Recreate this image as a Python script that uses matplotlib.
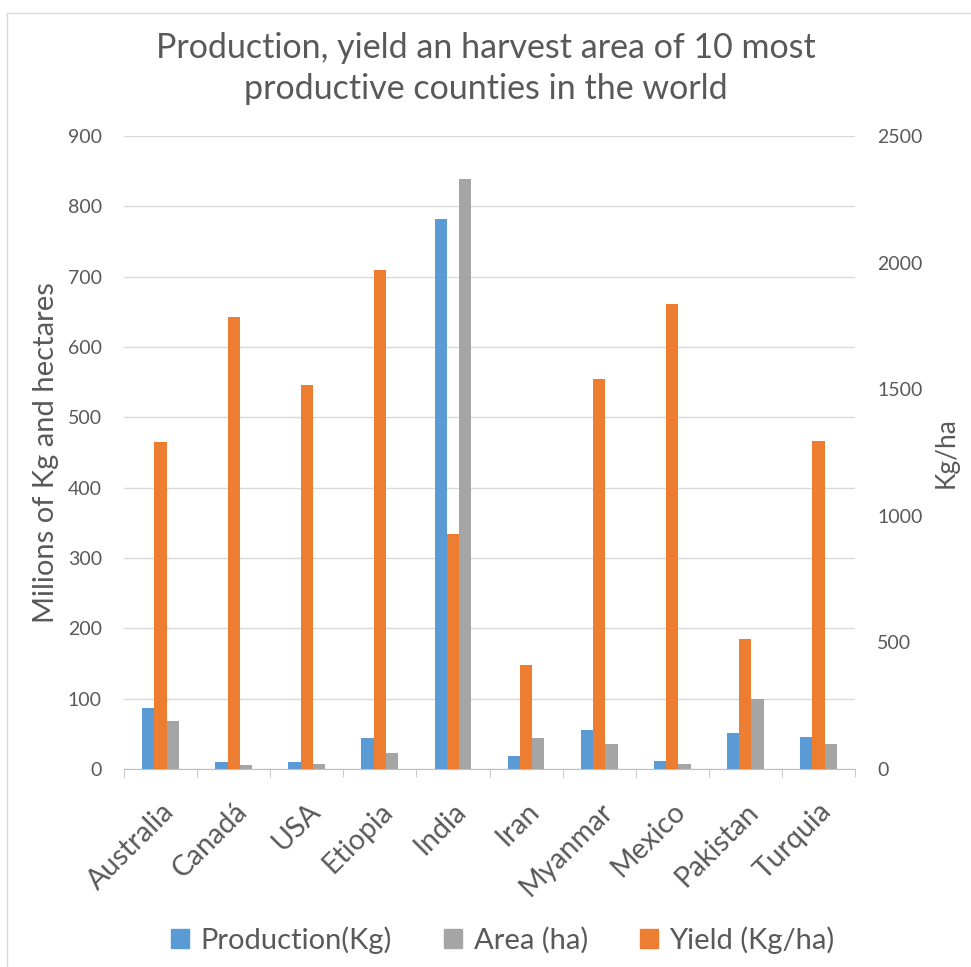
import numpy as np
import matplotlib.pyplot as plt
from matplotlib.lines import Line2D
from matplotlib.patches import Patch

plt.rcParams['font.family'] = ['Lato', 'DejaVu Sans']

countries = ['Australia', 'Canadá', 'USA', 'Etiopia', 'India',
             'Iran', 'Myanmar', 'Mexico', 'Pakistan', 'Turquia']
production = [87, 10, 10, 44, 782, 18, 56, 12, 51, 45]
area = [68, 6, 7, 23, 839, 44, 36, 7, 100, 35]
yield_kg_ha = [1290, 1787, 1517, 1970, 930, 410, 1539, 1835, 515, 1297]

blue = '#5b9bd5'
gray = '#a5a5a5'
orange = '#ed7d31'
txt = '#595959'

W, H = 971, 967
fig = plt.figure(figsize=(W / 100, H / 100), dpi=100)
ax = fig.add_axes([124 / W, 1 - 769 / H, (855 - 124) / W, (769 - 136) / H])
ax2 = ax.twinx()

x = np.arange(len(countries))
bw = 0.168

ax.bar(x - bw, production, width=bw, color=blue, zorder=2)
ax.bar(x + bw, area, width=bw, color=gray, zorder=2)
ax2.bar(x, yield_kg_ha, width=bw, color=orange, zorder=2)

ax.set_xlim(-0.5, len(countries) - 0.5)
ax.set_ylim(0, 900)
ax2.set_ylim(0, 2500)
ax.set_yticks(range(0, 901, 100))
ax2.set_yticks(range(0, 2501, 500))

ax.yaxis.grid(True, color='#d9d9d9', linewidth=1, zorder=0)
ax.set_axisbelow(True)

for a in (ax, ax2):
    for s in a.spines.values():
        s.set_visible(False)
    a.tick_params(axis='y', length=0, labelsize=14, labelcolor=txt, pad=16)
ax.spines['bottom'].set_visible(True)
ax.spines['bottom'].set_color('#bfbfbf')

ax.set_xticks(x)
ax.set_xticklabels(countries, rotation=45, ha='right', rotation_mode='anchor',
                   fontsize=20.5, color=txt)
ax.tick_params(axis='x', which='major', length=0, pad=21)
ax.set_xticks(np.arange(-0.5, len(countries)), minor=True)
ax.tick_params(axis='x', which='minor', length=6, color='#bfbfbf')

ax.set_ylabel('Milions of Kg and hectares', fontsize=21, color=txt, labelpad=6)
ax2.set_ylabel('Kg/ha', fontsize=19, color=txt, labelpad=8)

fig.suptitle('Production, yield an harvest area of 10 most\nproductive counties in the world',
             y=1 - 32 / H, fontsize=24.5, color=txt, linespacing=1.35)

handles = [Patch(color=blue), Patch(color=gray), Patch(color=orange)]
fig.legend(handles, ['Production(Kg)', 'Area (ha)', 'Yield (Kg/ha)'],
           loc='center', bbox_to_anchor=(503 / W, 1 - 940 / H), ncol=3,
           frameon=False, fontsize=21, labelcolor=txt, handlelength=0.6,
           handleheight=0.6, handletextpad=0.4, columnspacing=1.8)

# chart border
fig.add_artist(Line2D([7 / W, 1], [1 - 13 / H, 1 - 13 / H], color='#d9d9d9', lw=1))
fig.add_artist(Line2D([7 / W, 7 / W], [0, 1 - 13 / H], color='#d9d9d9', lw=1))

fig.savefig('out.png', dpi=100)
